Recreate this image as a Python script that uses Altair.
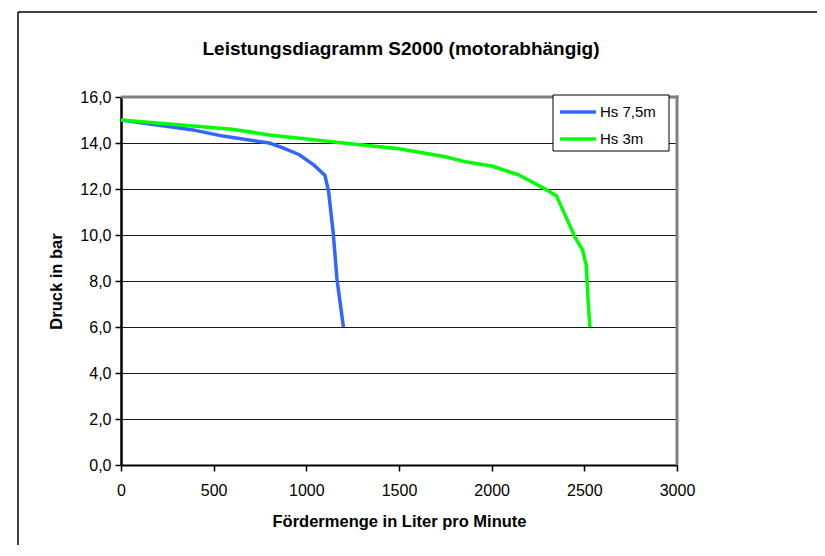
import altair as alt
import pandas as pd

# Hs 7,5m series
q_75 = [0, 400, 550, 800, 870, 960, 1040, 1100, 1120, 1145, 1165, 1200]
p_75 = [15.0, 14.55, 14.3, 14.0, 13.8, 13.5, 13.05, 12.6, 11.9, 10.1, 8.1, 6.0]

# Hs 3m series
q_3 = [0, 600, 800, 1200, 1500, 1750, 1850, 2000, 2150, 2300, 2350, 2400, 2450, 2490, 2510, 2520, 2530]
p_3 = [15.0, 14.6, 14.35, 14.0, 13.75, 13.4, 13.2, 13.0, 12.6, 11.95, 11.7, 10.8, 9.9, 9.35, 8.7, 7.2, 6.0]

series_names = ["Hs 7,5m", "Hs 3m"]
series_colors = ["#3366FF", "#00FF00"]

x_ticks = [0, 500, 1000, 1500, 2000, 2500, 3000]
y_ticks = [0, 2, 4, 6, 8, 10, 12, 14, 16]

title_text = "Leistungsdiagramm S2000 (motorabhängig)"

rows = []
for i, (q, p) in enumerate(zip(q_75, p_75)):
    rows.append({"Serie": series_names[0], "q": q, "p": p, "order": i})
for i, (q, p) in enumerate(zip(q_3, p_3)):
    rows.append({"Serie": series_names[1], "q": q, "p": p, "order": i})
df = pd.DataFrame(rows)
legend_df = pd.DataFrame({"Serie": series_names, "k": list(range(len(series_names)))})

W, H = 556, 368
FONT = "Liberation Sans"

x_scale = alt.Scale(domain=[0, 3000], nice=False, zero=True)
y_scale = alt.Scale(domain=[0, 16], nice=False, zero=True)
color_scale = alt.Scale(domain=series_names, range=series_colors)

x_axis = alt.Axis(title="Fördermenge in Liter pro Minute", values=x_ticks,
                  format="d", labelFlush=False, grid=False,
                  domainColor="black", domainWidth=2,
                  tickColor="black", tickWidth=1.5, tickSize=6,
                  labelFont=FONT, labelFontSize=16, labelColor="black",
                  labelPadding=11, titleFont=FONT, titleFontSize=16.5,
                  titleFontWeight="bold", titleColor="black", titlePadding=15)
y_axis = alt.Axis(title="Druck in bar", values=y_ticks, grid=True,
                  gridColor="#1a1a1a", gridWidth=1,
                  labelExpr="replace(format(datum.value, '.1f'), '.', ',')",
                  labelFlush=False,
                  domainColor="black", domainWidth=2.5,
                  tickColor="black", tickWidth=1.5, tickSize=6,
                  labelFont=FONT, labelFontSize=16, labelColor="black",
                  labelPadding=4, titleFont=FONT, titleFontSize=16.5,
                  titleFontWeight="bold", titleColor="black", titlePadding=15)

lines = alt.Chart(df).mark_line(strokeWidth=3.5, strokeJoin="round").encode(
    x=alt.X("q:Q", scale=x_scale, axis=x_axis),
    y=alt.Y("p:Q", scale=y_scale, axis=y_axis),
    color=alt.Color("Serie:N", scale=color_scale, legend=None),
    order="order:Q",
)

border_top = alt.Chart(pd.DataFrame({"p": [16]})).mark_rule(
    color="#808080", strokeWidth=3).encode(
    y=alt.Y("p:Q", scale=y_scale, axis=y_axis), x=alt.value(0), x2=alt.value(W + 1.5))
border_right = alt.Chart(pd.DataFrame({"q": [3000]})).mark_rule(
    color="#808080", strokeWidth=3).encode(
    x=alt.X("q:Q", scale=x_scale, axis=x_axis), y=alt.value(-1.5), y2=alt.value(H))

frame_left = alt.Chart(pd.DataFrame({"a": [0]})).mark_rule(
    color="black", strokeWidth=1.5).encode(
    x=alt.value(-103), y=alt.value(-85), y2=alt.value(700))
frame_top = alt.Chart(pd.DataFrame({"a": [0]})).mark_rule(
    color="black", strokeWidth=1.5).encode(
    x=alt.value(-103), x2=alt.value(900), y=alt.value(-85))

title_mark = alt.Chart(pd.DataFrame({"t": [title_text]})).mark_text(
    font=FONT, fontSize=19, fontWeight="bold", color="black",
    align="center", baseline="middle").encode(
    x=alt.value(W / 2 + 2), y=alt.value(-48), text="t:N")

main = alt.layer(lines, border_top, border_right, frame_left, frame_top, title_mark)

# legend box
leg_y = alt.Y("k:Q", scale=alt.Scale(domain=[0, 1], range=[15, 42], nice=False, zero=False),
              axis=None)
leg_box = alt.Chart(pd.DataFrame({"a": [0]})).mark_rect(
    fill="white", stroke="black", strokeWidth=1).encode(
    x=alt.value(432), x2=alt.value(548), y=alt.value(-2), y2=alt.value(54))
leg_sym = alt.Chart(legend_df).mark_rule(strokeWidth=3.5).encode(
    x=alt.value(439), x2=alt.value(475), y=leg_y,
    color=alt.Color("Serie:N", scale=color_scale, legend=None))
leg_txt = alt.Chart(legend_df).mark_text(
    font=FONT, fontSize=15, color="black", align="left", baseline="middle").encode(
    x=alt.value(479), y=leg_y, text="Serie:N")
legend = alt.layer(leg_box, leg_sym, leg_txt)

chart = alt.layer(main, legend).resolve_scale(y="independent").properties(
    width=W, height=H,
    autosize=alt.AutoSizeParams(type="none"),
    padding={"left": 113, "top": 89, "right": 140, "bottom": 80},
    background="white",
).configure_view(stroke=None)

chart.save("out.html", embed_options={"renderer": "svg", "actions": False})
